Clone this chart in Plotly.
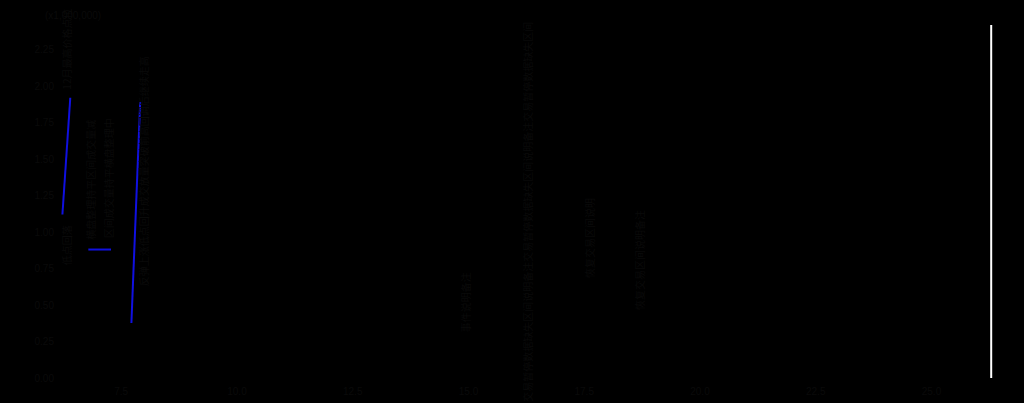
import plotly.graph_objects as go

# Series (y in millions)
seg1_x = [6.23, 6.40]
seg1_y = [1.12, 1.92]
seg2_x = [6.79, 7.28]
seg2_y = [0.88, 0.88]
seg3_x = [7.72, 7.91]
seg3_y = [0.377, 1.89]
marker_x = [26.29, 26.29]
marker_y = [0.0, 2.418]

# Vertical labels (text is nearly black on black in the reference)
label_x = [6.31, 6.31, 6.83, 7.22, 7.98, 14.93, 16.27, 17.63, 18.71]
label_y = [2.25, 0.91, 1.36, 1.37, 1.42, 0.52, 1.14, 0.96, 0.81]
label_text = [
    "12月最高价格点位",
    "低点回落",
    "横盘整理持平区间成交量减",
    "区间成交量持平横盘整理中",
    "反弹上涨低点回升成交放量突破前高回调后继续走高",
    "事件说明备注",
    "交易暂停数据缺失区间说明备注交易暂停数据缺失区间说明备注交易暂停数据缺失区间",
    "恢复交易区间说明",
    "恢复交易区间说明备注",
]

y_ticks = [0, 0.25, 0.5, 0.75, 1.0, 1.25, 1.5, 1.75, 2.0, 2.25]
x_ticks = [7.5, 10.0, 12.5, 15.0, 17.5, 20.0, 22.5, 25.0]

text_color = "#0a0a0a"

fig = go.Figure()

for xs, ys in [(seg1_x, seg1_y), (seg2_x, seg2_y), (seg3_x, seg3_y)]:
    fig.add_trace(go.Scatter(
        x=xs, y=ys, mode="lines",
        line=dict(color="#1010e0", width=2),
        showlegend=False, hoverinfo="skip"
    ))

fig.add_trace(go.Scatter(
    x=marker_x, y=marker_y, mode="lines",
    line=dict(color="white", width=2),
    showlegend=False, hoverinfo="skip"
))

for x, y, t in zip(label_x, label_y, label_text):
    fig.add_annotation(
        x=x, y=y, text=t, textangle=-90, showarrow=False,
        font=dict(size=10, color=text_color, family="Noto Sans CJK SC")
    )

fig.add_annotation(
    x=0, y=1, xref="paper", yref="paper", xanchor="left", yanchor="bottom",
    xshift=-12, yshift=2,
    text="(x1,000,000)", showarrow=False,
    font=dict(size=10, color=text_color, family="Liberation Sans")
)

fig.update_layout(
    width=1024, height=403,
    paper_bgcolor="black",
    plot_bgcolor="black",
    margin=dict(l=55, r=24, t=25, b=25),
    font=dict(family="Liberation Sans", size=10, color=text_color),
    xaxis=dict(range=[6.07, 26.48], tickvals=x_ticks, tickformat=".1f",
               ticklabelstandoff=6, automargin=False,
               showgrid=False, zeroline=False, showline=False),
    yaxis=dict(range=[0, 2.418], tickvals=y_ticks, tickformat=".2f",
               automargin=False,
               showgrid=False, zeroline=False, showline=False),
)

# page fills the window with no white border
fig.write_html(
    "out.html",
    config={"displayModeBar": False},
    post_script="document.body.style.margin='0';"
                "document.body.style.background='black';"
                "document.body.style.overflow='hidden';",
)
